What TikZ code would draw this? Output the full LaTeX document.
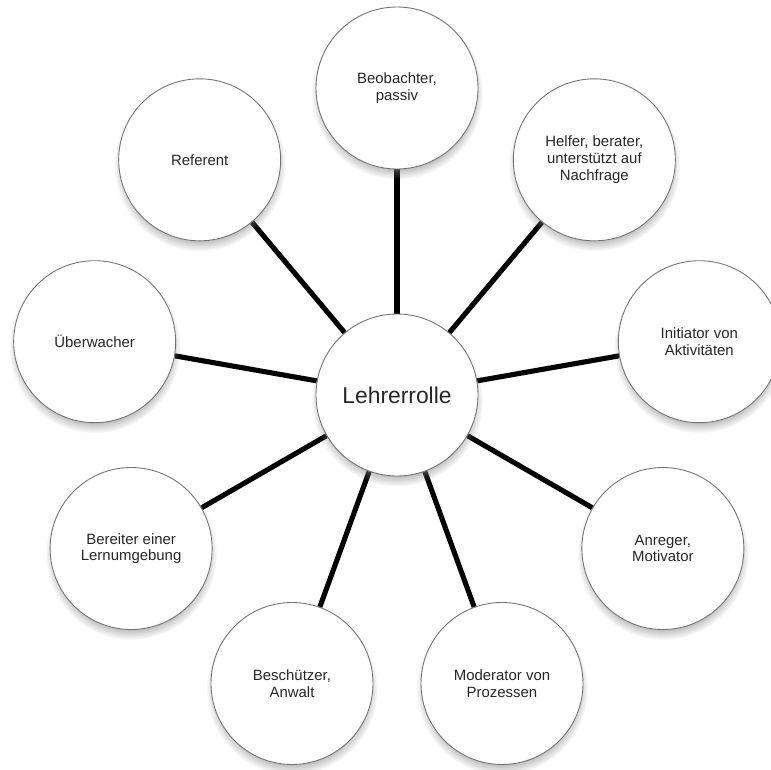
\documentclass[tikz,border=0pt]{standalone}
\usepackage{fontspec}
\setmainfont{Liberation Sans}
\usetikzlibrary{shadows}
\usetikzlibrary{backgrounds}
\tikzset{rolle/.style={circle,draw=black!55,line width=.5pt,fill=white,
  minimum size=3.24cm,inner sep=0pt,align=center,text=black!85,
  font=\fontsize{8.5}{9.5}\selectfont,
  circular drop shadow={shadow xshift=0pt,shadow yshift=-3pt,shadow scale=1.06,opacity=.6}},
 mitte/.style={rolle,font=\fontsize{13}{15}\selectfont},
 verbindung/.style={draw=black,line width=2.9pt},
 }

\begin{document}
\begin{tikzpicture}
        \useasboundingbox (-7.94, -7.48) rectangle (7.48, 7.9);
        \node [mitte] (lehrer) at (0, 0) {Lehrerrolle};
        \node [rolle] (beobachter) at (90:6.14) {Beobachter,\\passiv};
        \node [rolle] (helfer) at (50:6.14) {Helfer, berater,\\unterstützt auf\\Nachfrage};
        \node [rolle] (initiator) at (10:6.14) {Initiator von\\Aktivitäten};
        \node [rolle] (anreger) at (-30:6.14) {Anreger,\\Motivator};
        \node [rolle] (moderator) at (-70:6.14) {Moderator von\\Prozessen};
        \node [rolle] (beschuetzer) at (-110:6.14) {Beschützer,\\Anwalt};
        \node [rolle] (bereiter) at (-150:6.14) {Bereiter einer\\Lernumgebung};
        \node [rolle] (ueberwacher) at (170:6.14) {Überwacher};
        \node [rolle] (referent) at (130:6.14) {Referent};
        \begin{scope}[on background layer]
        \draw [verbindung] (lehrer) -- (beobachter);
        \draw [verbindung] (lehrer) -- (helfer);
        \draw [verbindung] (lehrer) -- (initiator);
        \draw [verbindung] (lehrer) -- (anreger);
        \draw [verbindung] (lehrer) -- (moderator);
        \draw [verbindung] (lehrer) -- (beschuetzer);
        \draw [verbindung] (lehrer) -- (bereiter);
        \draw [verbindung] (lehrer) -- (ueberwacher);
        \draw [verbindung] (lehrer) -- (referent);
        \end{scope}
    \end{tikzpicture}
\end{document}
